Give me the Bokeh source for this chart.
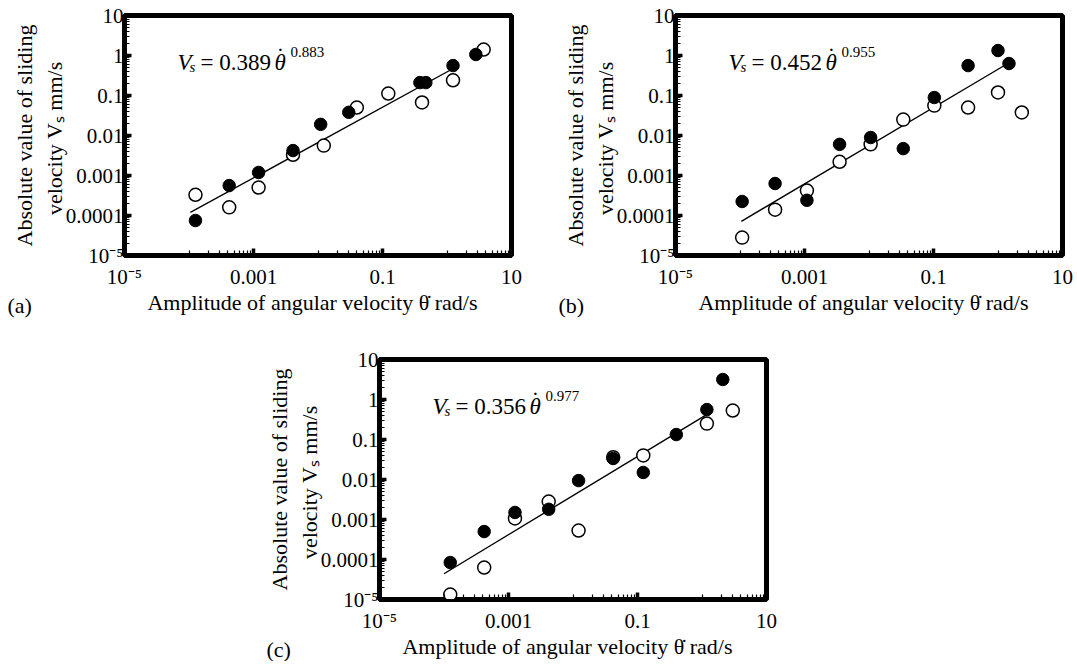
import math
from bokeh.plotting import figure
from bokeh.models import (FixedTicker, CustomJSTickFormatter, Label, Title,
                          Spacer, Range1d)
from bokeh.layouts import row, column
from bokeh.embed import file_html
from bokeh.resources import INLINE

FONT = "Liberation Serif"

# ---------------- data ----------------
# panel (a)
a_filled_x = [1.26e-4, 4.2e-4, 1.2e-3, 4.1e-3, 0.011, 0.030, 0.38, 0.47, 1.24, 2.8]
a_filled_y = [7.5e-5, 5.6e-4, 1.19e-3, 4.2e-3, 0.019, 0.038, 0.21, 0.21, 0.56, 1.06]
a_open_x = [1.26e-4, 4.2e-4, 1.2e-3, 4.1e-3, 0.0123, 0.040, 0.123, 0.41, 1.24, 3.7]
a_open_y = [3.3e-4, 1.6e-4, 5.0e-4, 3.3e-3, 5.6e-3, 0.05, 0.112, 0.067, 0.24, 1.41]
a_fit = (0.389, 0.883)
a_fit_x = [1.05e-4, 1.15]

# panel (b)
b_filled_x = [1.08e-4, 3.5e-4, 1.09e-3, 3.5e-3, 0.0106, 0.034, 0.103, 0.344, 1.0, 1.48]
b_filled_y = [2.24e-4, 6.3e-4, 2.4e-4, 6.0e-3, 8.9e-3, 4.7e-3, 0.089, 0.56, 1.33, 0.63]
b_open_x = [1.08e-4, 3.5e-4, 1.09e-3, 3.5e-3, 0.0106, 0.034, 0.103, 0.344, 1.0, 2.34]
b_open_y = [2.8e-5, 1.4e-4, 4.2e-4, 2.2e-3, 6.0e-3, 0.025, 0.056, 0.05, 0.119, 0.0376]
b_fit = (0.452, 0.955)
b_fit_x = [1.05e-4, 1.2]

# panel (c)
c_filled_x = [1.25e-4, 4.2e-4, 1.26e-3, 4.2e-3, 0.0122, 0.042, 0.123, 0.4, 1.19, 2.1]
c_filled_y = [8.4e-5, 5.0e-4, 1.5e-3, 1.8e-3, 9.4e-3, 0.0335, 0.015, 0.133, 0.56, 3.16]
c_open_x = [1.25e-4, 4.2e-4, 1.26e-3, 4.2e-3, 0.0122, 0.042, 0.123, 1.19, 3.0]
c_open_y = [1.33e-5, 6.3e-5, 1.06e-3, 2.8e-3, 5.3e-4, 0.036, 0.04, 0.25, 0.53]
c_fit = (0.356, 0.977)
c_fit_x = [1.0e-4, 1.2]

# axes
x_tick_values = [1e-5, 1e-3, 1e-1, 10]
x_tick_labels = ["10\u207b\u2075", "0.001", "0.1", "10"]
y_tick_values = [1e-5, 1e-4, 1e-3, 1e-2, 1e-1, 1, 10]
y_tick_labels = ["10\u207b\u2075", "0.0001", "0.001", "0.01", "0.1", "1", "10"]
x_label = "Amplitude of angular velocity \u03b8\u0307   rad/s"
y_label = "Absolute value of sliding\nvelocity V\u209b  mm/s"
tags = ["(a)", "(b)", "(c)"]

x_minor = [k * 10.0 ** e for e in (-4, -2, 0) for k in range(1, 10)]
y_minor = [k * 10.0 ** e for e in range(-5, 1) for k in range(2, 10)]


def label_map(values, labels):
    return {str(round(math.log10(v))): t for v, t in zip(values, labels)}


def fmt(values, labels):
    return CustomJSTickFormatter(
        args=dict(m=label_map(values, labels)),
        code="const e = Math.round(Math.log10(tick)); const s = m[String(e)]; return s === undefined ? '' : s;")


def add_text(p, x, y, text, size, style="normal", baseline="alphabetic"):
    p.add_layout(Label(x=x, y=y, x_units="screen", y_units="screen",
                       text=text, text_font=FONT, text_font_size=size,
                       text_font_style=style, text_baseline=baseline,
                       text_align="left", text_color="black"))


def equation(p, coef, expo, x0=53, y0=193):
    add_text(p, x0, y0, "V", "23px", "italic")
    add_text(p, x0 + 12, y0 - 4, "s", "15px", "italic")
    add_text(p, x0 + 23, y0, "= %.3f" % coef, "23px")
    add_text(p, x0 + 97, y0, "\u03b8", "23px", "italic")
    add_text(p, x0 + 99, y0 + 6, "\u02d9", "23px")
    add_text(p, x0 + 113, y0 + 11, "%.3f" % expo, "15px")


def panel(fx, fy, ox, oy, fit, fit_x, tag, tag_off, bl, br, bt, bb):
    p = figure(x_axis_type="log", y_axis_type="log",
               x_range=Range1d(1e-5, 10), y_range=Range1d(1e-5, 10),
               frame_width=387, frame_height=240,
               min_border_left=bl, min_border_right=br,
               min_border_top=bt, min_border_bottom=bb,
               output_backend="svg", toolbar_location=None)
    p.grid.visible = False
    p.background_fill_color = "white"
    p.border_fill_color = "white"
    p.outline_line_color = "black"
    p.outline_line_width = 5
    p.outline_line_alpha = 1.0

    xa = p.xaxis[0]
    xa.ticker = FixedTicker(ticks=x_tick_values, minor_ticks=x_minor)
    xa.formatter = fmt(x_tick_values, x_tick_labels)
    ya = p.yaxis[0]
    ya.ticker = FixedTicker(ticks=y_tick_values, minor_ticks=y_minor)
    ya.formatter = fmt(y_tick_values, y_tick_labels)
    for ax in (xa, ya):
        ax.axis_line_color = "black"
        ax.axis_line_width = 1
        ax.major_tick_in = 7
        ax.major_tick_out = 0
        ax.major_tick_line_width = 3.5
        ax.minor_tick_in = 5
        ax.minor_tick_out = 0
        ax.minor_tick_line_width = 1.2
        ax.major_label_text_font = FONT
        ax.major_label_text_font_size = "21px"
        ax.major_label_text_color = "black"
        ax.axis_label_text_font = FONT
        ax.axis_label_text_font_size = "22px"
        ax.axis_label_text_font_style = "normal"
        ax.axis_label_text_color = "black"
    xa.axis_label = x_label
    xa.major_label_standoff = 9
    xa.axis_label_standoff = -2
    ya.axis_label = y_label
    ya.major_label_standoff = 1
    ya.axis_label_standoff = -4

    fx_line = list(fit_x)
    fy_line = [fit[0] * x ** fit[1] for x in fx_line]
    p.line(fx_line, fy_line, line_color="black", line_width=1.4)
    p.scatter(ox, oy, size=13, marker="circle", fill_color="white",
              line_color="black", line_width=1.5)
    p.scatter(fx, fy, size=12.5, marker="circle", fill_color="black",
              line_color="black", line_width=1)

    equation(p, fit[0], fit[1])
    p.add_layout(Title(text=tag, align="left", offset=tag_off, standoff=-49,
                       vertical_align="top",
                       text_font=FONT, text_font_size="22px",
                       text_font_style="normal", text_color="black"), "below")
    return p


pa = panel(a_filled_x, a_filled_y, a_open_x, a_open_y, a_fit, a_fit_x, tags[0], -117,
           124, 29, 15, 72)
pb = panel(b_filled_x, b_filled_y, b_open_x, b_open_y, b_fit, b_fit_x, tags[1], -117,
           135, 13, 15, 72)
pc = panel(c_filled_x, c_filled_y, c_open_x, c_open_y, c_fit, c_fit_x, tags[2], -113,
           124, 20, 32, 60)

page = column(row(pa, pb), row(Spacer(width=255, height=10), pc))

open("out.html", "w").write(file_html(page, INLINE, "Sliding velocity"))
